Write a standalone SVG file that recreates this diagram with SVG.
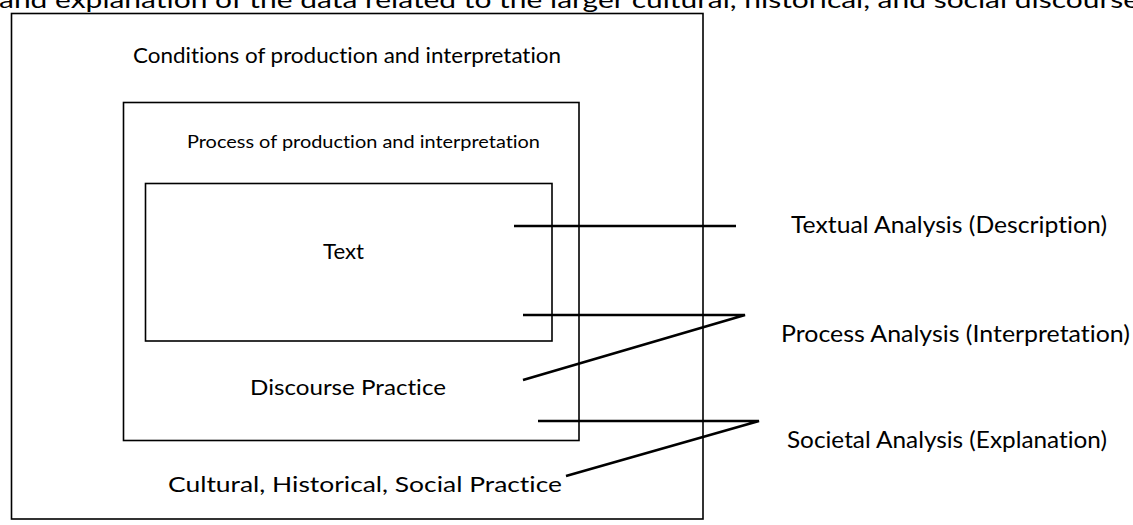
<svg xmlns="http://www.w3.org/2000/svg" width="1133" height="525" viewBox="0 0 1133 525">
<style>
.box{fill:none;stroke:#000;stroke-width:1.6}
.con{fill:none;stroke:#000;stroke-width:2.6;stroke-linecap:butt;stroke-linejoin:miter}
text{font-family:Lato,"Noto Sans","Liberation Sans",sans-serif;fill:#000;font-variant-ligatures:none}
.big{font-size:23.5px}
.mid{font-size:21px}
.sm{font-size:18px}
</style>
<rect width="1133" height="525" fill="#fff"/>
<g id="caption">
<text class="big" x="-1" y="7.5" textLength="1140" lengthAdjust="spacingAndGlyphs">and explanation of the data related to the larger cultural, historical, and social discourse</text>
</g>
<g id="outer">
<rect class="box" x="11.5" y="13.5" width="691.5" height="505.5"/>
<text class="mid" x="133" y="63" textLength="428" lengthAdjust="spacingAndGlyphs">Conditions of production and interpretation</text>
<text class="mid" x="168" y="492" textLength="394" lengthAdjust="spacingAndGlyphs">Cultural, Historical, Social Practice</text>
</g>
<g id="middle">
<rect class="box" x="123.5" y="102.5" width="455.5" height="338"/>
<text class="sm" x="187" y="148" textLength="353" lengthAdjust="spacingAndGlyphs">Process of production and interpretation</text>
<text class="mid" x="250" y="395" textLength="196" lengthAdjust="spacingAndGlyphs">Discourse Practice</text>
</g>
<g id="inner">
<rect class="box" x="145.5" y="183.5" width="406.5" height="157.5"/>
<text class="mid" x="323" y="259" textLength="41" lengthAdjust="spacingAndGlyphs">Text</text>
</g>
<g id="connectors">
<polyline class="con" points="514,226 736,226"/>
<polyline class="con" points="523,315 745,315 523,380"/>
<polyline class="con" points="538,421 759,421 566,476"/>
</g>
<g id="label-textual">
<text class="big" x="791" y="233" textLength="316" lengthAdjust="spacingAndGlyphs">Textual Analysis (Description)</text>
</g>
<g id="label-process">
<text class="big" x="781" y="341.5" textLength="349" lengthAdjust="spacingAndGlyphs">Process Analysis (Interpretation)</text>
</g>
<g id="label-societal">
<text class="big" x="787" y="448" textLength="320" lengthAdjust="spacingAndGlyphs">Societal Analysis (Explanation)</text>
</g>
</svg>
